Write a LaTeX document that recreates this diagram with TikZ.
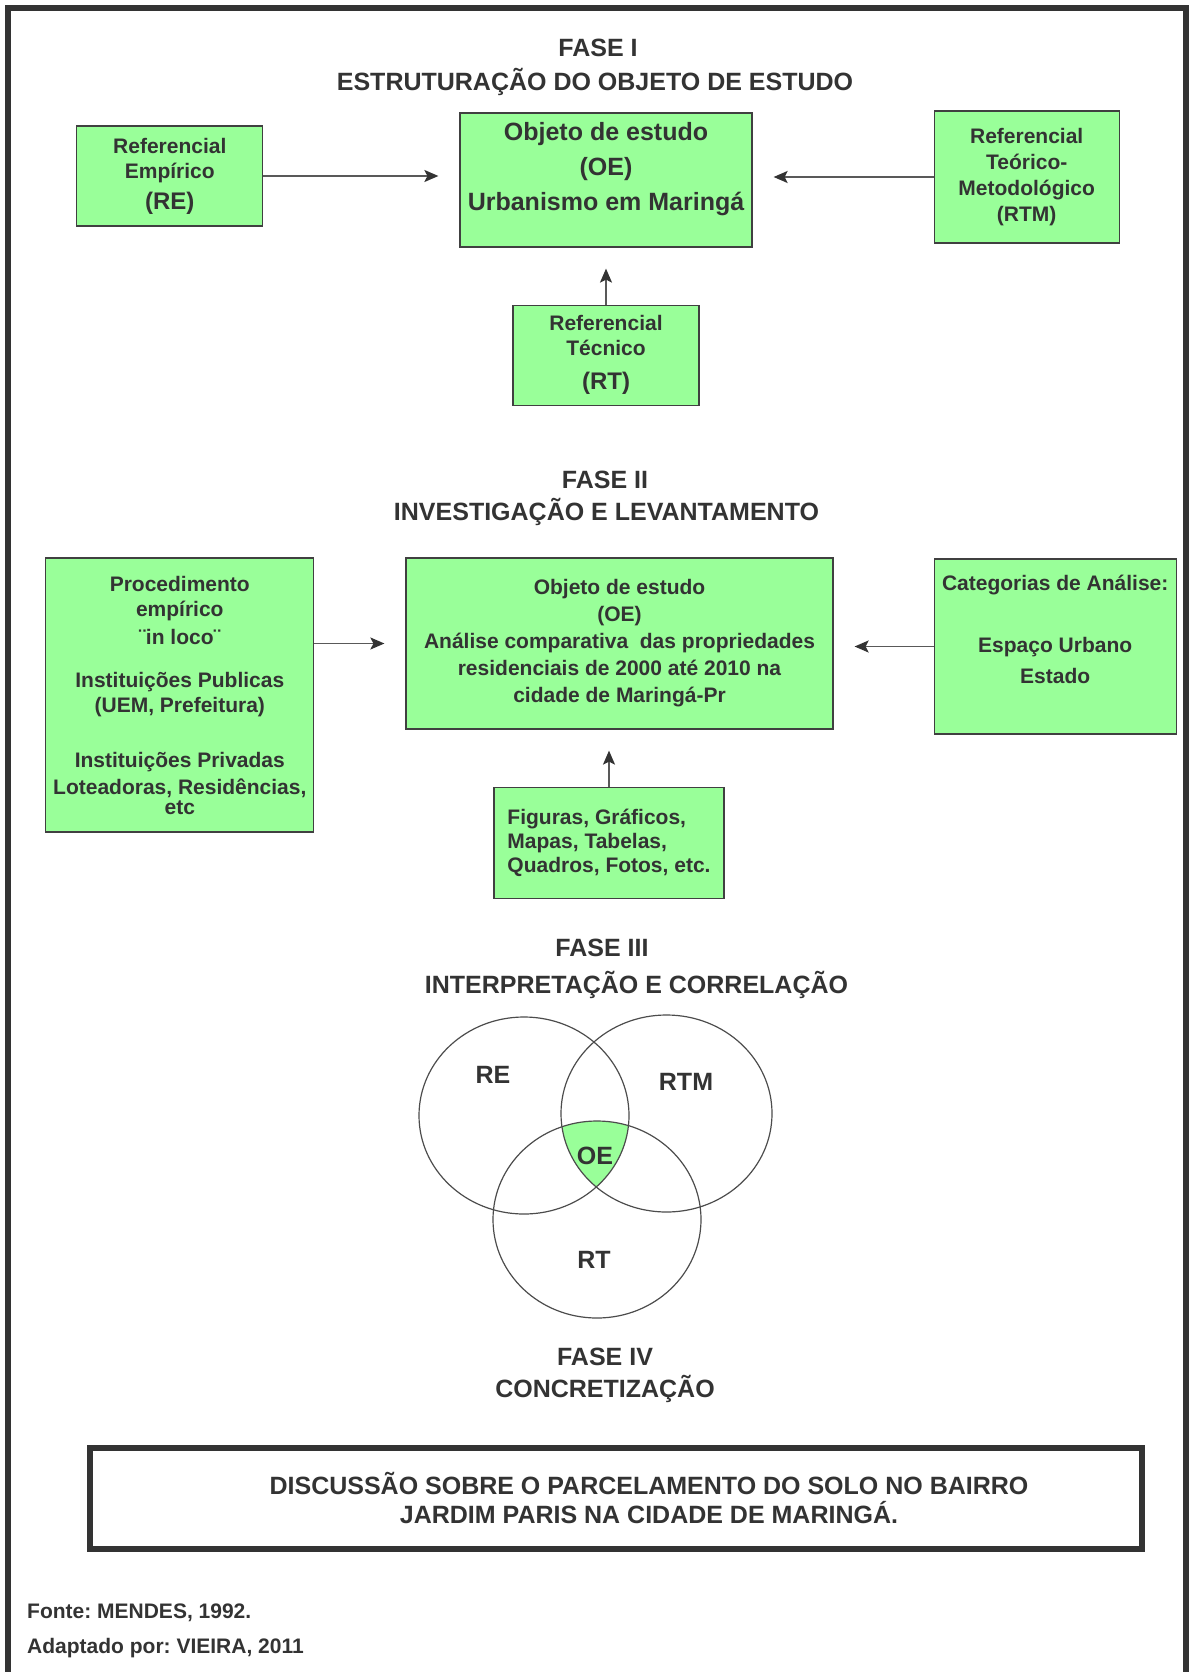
\documentclass[tikz,border=0pt]{standalone}
\usepackage{fontspec}
\setmainfont{Liberation Sans}
\usetikzlibrary{positioning,arrows.meta}
\definecolor{boxgreen}{RGB}{153,255,153}
\definecolor{ink}{RGB}{51,51,51}
\newcommand{\fsz}[2]{\fontsize{#1}{#2}\selectfont\bfseries}
\frenchspacing

\begin{document}
\begin{tikzpicture}[x=1pt, y=-1pt, >={Stealth[length=14pt,width=12pt,inset=3pt,color=ink]},
  box/.style={draw=black!75, line width=1.2pt, fill=boxgreen, text=ink, align=center, inner sep=4pt},
  title/.style={text=ink, font=\fsz{25}{32}, inner sep=0pt},
  link/.style={->, draw=black!65, line width=1.6pt, shorten >=21pt},
  venn/.style={draw=black!70, line width=1.2pt},
  vlabel/.style={text=ink, font=\fsz{25}{30}, inner sep=0pt},
  foot/.style={text=ink, font=\fsz{21}{25}, inner sep=0pt, anchor=west}]
\useasboundingbox (0,0) rectangle (1189,1672);
\draw[ink, line width=6pt] (8,1672) -- (8,8) -- (1185.5,8) -- (1185.5,1672);

% fase I
\node[title] (fase1) at (598,48) {FASE I};
\node[title] (tit1) at (595,82) {ESTRUTURAÇÃO DO OBJETO DE ESTUDO};
\node[box, minimum width=292pt, minimum height=134pt, font=\fsz{25}{35}] (oe1) at (606,180)
  {Objeto de estudo\\(OE)\\Urbanismo em Maringá\\[-8pt]\mbox{}};
\node[box, minimum width=186pt, minimum height=100pt, font=\fsz{21}{25}, left=196pt of oe1, yshift=4pt] (re)
  {Referencial\\Empírico\\[6pt]{\fsz{24}{28}(RE)}};
\node[box, minimum width=185pt, minimum height=132pt, font=\fsz{21}{26}, right=181pt of oe1, yshift=3pt] (rtm)
  {Referencial\\Teórico-\\Metodológico\\(RTM)};
\node[box, minimum width=186pt, minimum height=100pt, font=\fsz{21}{25}, below=57pt of oe1] (rt)
  {Referencial\\Técnico\\[9pt]{\fsz{24}{28}(RT)}};
\draw[link] (re) -- (re -| oe1.west);
\draw[link] (rtm) -- (rtm -| oe1.east);
\draw[link] (rt) -- (rt |- oe1.south);

% fase II
\node[title] (fase2) at (605,480) {FASE II};
\node[title] (tit2) at (606.5,512) {INVESTIGAÇÃO E LEVANTAMENTO};
\node[box, minimum width=427pt, minimum height=171pt, font=\fsz{21}{27}] (oe2) at (619.5,643.5)
  {Objeto de estudo\\(OE)\\Análise comparativa \ das propriedades\\residenciais de 2000 até 2010 na\\cidade de Maringá-Pr};
\node[box, minimum width=268pt, minimum height=274pt, font=\fsz{21}{25}, left=91pt of oe2.north west, anchor=north east] (proc)
  {Procedimento\\empírico\\[3pt]¨in loco¨\\[18pt]Instituições Publicas\\(UEM, Prefeitura)\\[30pt]Instituições Privadas\\[2pt]Loteadoras, Residências,\\[-5pt]etc};
\node[box, minimum width=242pt, minimum height=175pt, font=\fsz{21}{26}, right=100pt of oe2, yshift=-3pt] (cat)
  {Categorias de Análise:\\[36pt]Espaço Urbano\\[5pt]Estado\\[8pt]\mbox{}};
\node[box, minimum width=230pt, minimum height=111pt, font=\fsz{21}{24}, align=left, below=57pt of oe2, xshift=-10.5pt] (fig)
  {Figuras, Gráficos,\\Mapas, Tabelas,\\Quadros, Fotos, etc.};
\draw[link] (proc.east |- oe2) -- (oe2.west);
\draw[link] (cat) -- (cat -| oe2.east);
\draw[link] (fig) -- (fig |- oe2.south);

% fase III
\node[title] (fase3) at (602,948) {FASE III};
\node[title] (tit3) at (636.5,985) {INTERPRETAÇÃO E CORRELAÇÃO};
\begin{scope}
  \clip (524,1115.5) ellipse [x radius=105, y radius=98.5];
  \clip (666.5,1113.5) ellipse [x radius=105.5, y radius=98.5];
  \fill[boxgreen] (597,1219.5) ellipse [x radius=104, y radius=98.5];
\end{scope}
\draw[venn] (524,1115.5) ellipse [x radius=105, y radius=98.5];
\draw[venn] (666.5,1113.5) ellipse [x radius=105.5, y radius=98.5];
\draw[venn] (597,1219.5) ellipse [x radius=104, y radius=98.5];
\node[vlabel] (lre) at (493,1075) {RE};
\node[vlabel] (lrtm) at (686,1082) {RTM};
\node[vlabel] (loe) at (595,1156) {OE};
\node[vlabel] (lrt) at (594,1260) {RT};

% fase IV
\node[title] (fase4) at (605,1357) {FASE IV};
\node[title] (tit4) at (605,1389) {CONCRETIZAÇÃO};
\node[draw=ink, line width=6pt, minimum width=1052pt, minimum height=101pt, inner sep=0pt] (final) at (616,1498.5) {};
\node[title, align=center, font=\fsz{25}{29}] (disc) at (649,1497.5)
  {DISCUSSÃO SOBRE O PARCELAMENTO DO SOLO NO BAIRRO\\JARDIM PARIS NA CIDADE DE MARINGÁ.};

\node[foot] (fonte) at (27,1613) {Fonte: MENDES, 1992.};
\node[foot] (adapt) at (27,1648) {Adaptado por: VIEIRA, 2011};
\end{tikzpicture}
\end{document}
